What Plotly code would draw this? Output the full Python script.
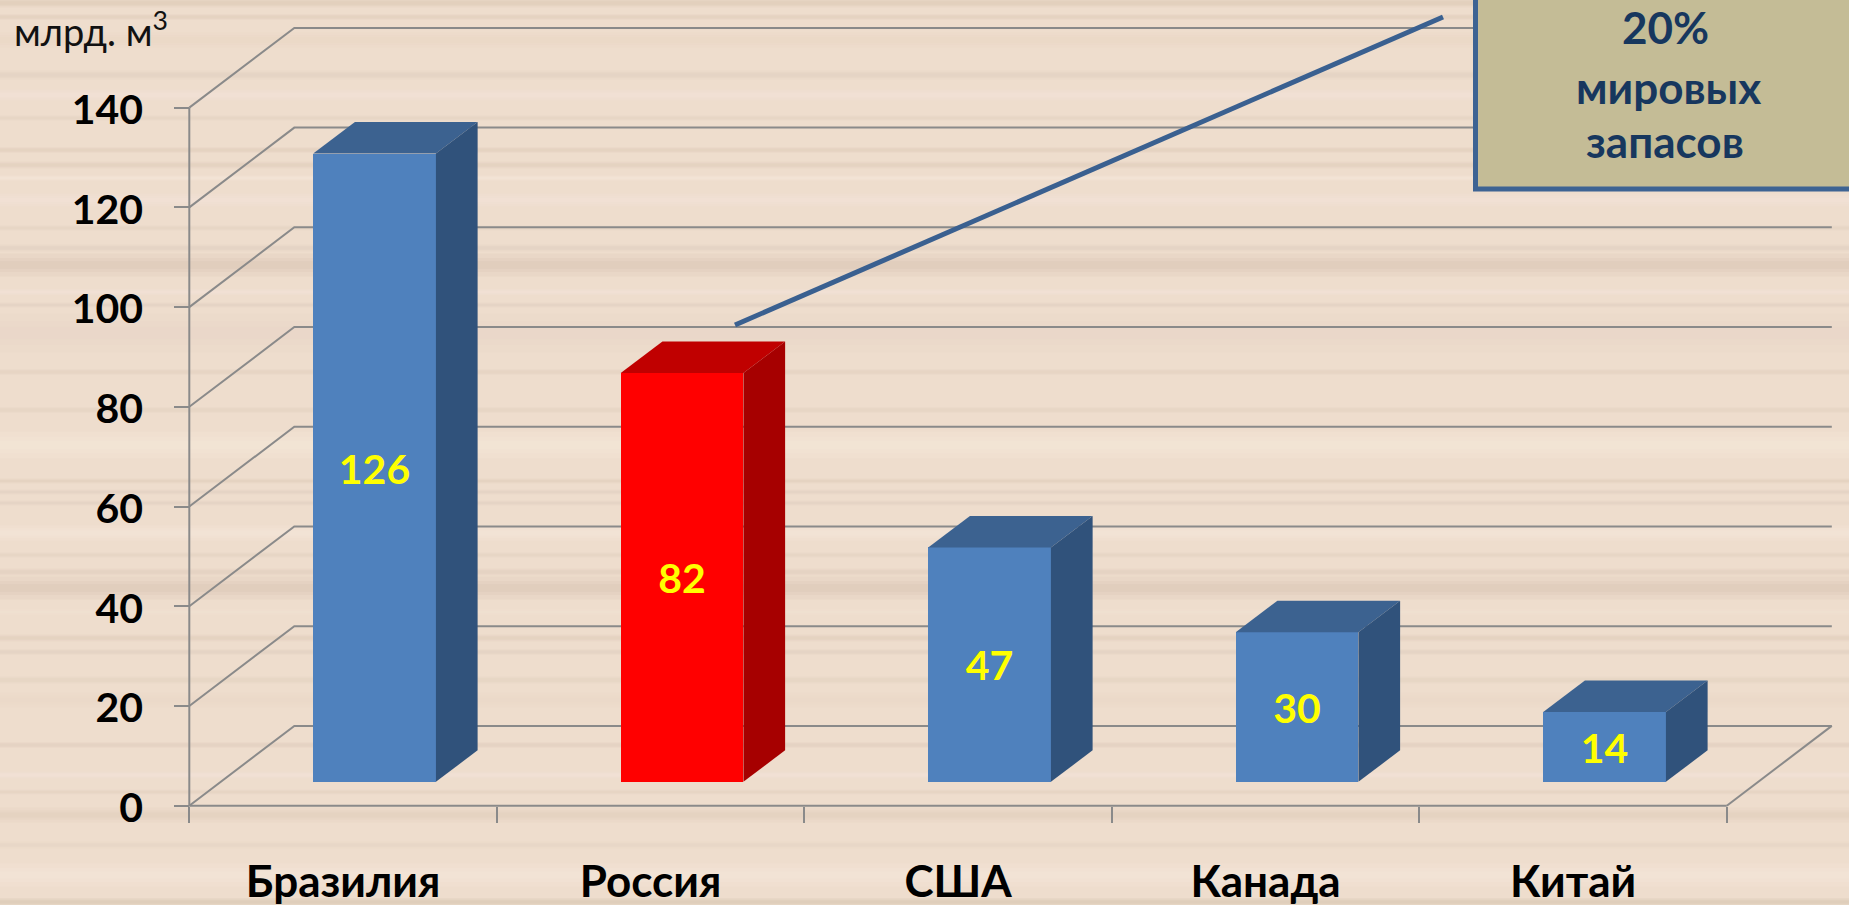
import plotly.graph_objects as go

W, H = 1849, 905
categories = ["Бразилия", "Россия", "США", "Канада", "Китай"]
values = [126, 82, 47, 30, 14]
y_ticks = [0, 20, 40, 60, 80, 100, 120, 140]
colors_front = ["#4F81BD", "#FF0000", "#4F81BD", "#4F81BD", "#4F81BD"]
colors_top = ["#3C6290", "#C00000", "#3C6290", "#3C6290", "#3C6290"]
colors_side = ["#30527B", "#A60000", "#30527B", "#30527B", "#30527B"]
unit_label = "млрд. м<sup>3</sup>"
callout_lines = ["20%", "мировых", "запасов"]

FONT = "Lato, 'Noto Sans', sans-serif"
AX0, AY0, PX_X, PX_Y = 189.3, 805.7, 307.5, 4.986
GRID = "#8A8A8A"
WALL_DX, WALL_DY = 0.3415, 16.0
BAR_L, BAR_W, BAR_BASE, DEPTH_X, DEPTH_Y = 0.403, 0.399, 4.8, 0.1356, 6.3
x_range = [-AX0 / PX_X, (W - AX0) / PX_X]
y_range = [(AY0 - H) / PX_Y, AY0 / PX_Y]
n = len(categories)

# wood-grain look of the slide background: hand-placed soft horizontal streaks (y, thickness, colour, strength)
DARK, LIGHT, PINK = "#CDB7A3", "#F8EDE0", "#E8D2C2"
wood_streaks = [
    (3, 8, DARK, .45), (17, 5, DARK, .3), (40, 14, PINK, .5), (75, 8, DARK, .25), (95, 10, LIGHT, .5),
    (118, 4, DARK, .2), (150, 5, DARK, .3), (165, 6, DARK, .3), (178, 4, LIGHT, .6), (200, 12, LIGHT, .5),
    (228, 4, DARK, .2), (248, 6, DARK, .25), (265, 22, DARK, .5), (292, 5, LIGHT, .5), (305, 4, DARK, .25),
    (333, 38, PINK, .55), (372, 5, DARK, .18), (410, 5, DARK, .2), (445, 26, LIGHT, .65), (481, 4, DARK, .3),
    (492, 4, DARK, .25), (503, 4, DARK, .25), (533, 14, LIGHT, .6), (555, 4, DARK, .2), (572, 6, DARK, .28),
    (588, 22, DARK, .5), (612, 5, LIGHT, .4), (638, 6, DARK, .3), (652, 5, DARK, .25), (680, 6, DARK, .2),
    (700, 14, PINK, .4), (745, 5, DARK, .28), (775, 6, LIGHT, .5), (792, 4, DARK, .18), (815, 14, DARK, .3),
    (845, 6, DARK, .16), (875, 22, LIGHT, .6), (902, 7, DARK, .55),
]


def px(x):
    return x / W


def py(y):
    return 1 - y / H


fig = go.Figure()
xs = [i + BAR_L + BAR_W / 2 for i in range(n)]
fig.add_trace(go.Bar(
    x=xs, y=values, base=BAR_BASE, width=BAR_W,
    marker=dict(color=colors_front, line=dict(width=0)),
    text=[str(v) for v in values], textposition="inside", insidetextanchor="middle",
    textangle=0, constraintext="none",
    insidetextfont=dict(family=FONT, size=41, color="#FFFF00", weight=700),
    hoverinfo="skip", showlegend=False,
))
for i, v in enumerate(values):
    l, r = i + BAR_L, i + BAR_L + BAR_W
    t, b = BAR_BASE + v, BAR_BASE
    fig.add_trace(go.Scatter(
        x=[l, r, r + DEPTH_X, l + DEPTH_X, l], y=[t, t, t + DEPTH_Y, t + DEPTH_Y, t],
        mode="lines", line=dict(width=0), fill="toself", fillcolor=colors_top[i],
        hoverinfo="skip", showlegend=False))
    fig.add_trace(go.Scatter(
        x=[r, r + DEPTH_X, r + DEPTH_X, r, r], y=[t, t + DEPTH_Y, b + DEPTH_Y, b, t],
        mode="lines", line=dict(width=0), fill="toself", fillcolor=colors_side[i],
        hoverinfo="skip", showlegend=False))

shapes = []
for yy, th, col, op in wood_streaks:
    for k in (1.0, 0.6, 0.3):
        hh = th * k / 2 + 0.5
        shapes.append(dict(type="rect", xref="paper", yref="paper", x0=0, x1=1, y0=py(yy + hh), y1=py(yy - hh),
                           fillcolor=col, opacity=op * 0.28, line=dict(width=0), layer="below"))
# back wall grid: tick -> diagonal -> along the wall
for v in y_ticks:
    path = f"M 0 {v} L {WALL_DX} {v + WALL_DY} L {n + WALL_DX} {v + WALL_DY}"
    shapes.append(dict(type="path", path=path, layer="below", line=dict(color=GRID, width=2)))
shapes.append(dict(type="line", x0=n, y0=0, x1=n + WALL_DX, y1=WALL_DY, layer="below",
                   line=dict(color=GRID, width=2)))
shapes.append(dict(type="line", x0=0, y0=0, x1=0, y1=y_ticks[-1], layer="below",
                   line=dict(color=GRID, width=2)))
shapes.append(dict(type="line", x0=0, y0=0, x1=n, y1=0, layer="below",
                   line=dict(color=GRID, width=2)))
# callout
shapes.append(dict(type="line", xref="paper", yref="paper", x0=px(735), y0=py(325), x1=px(1443), y1=py(17),
                   line=dict(color="#3A6090", width=5)))
shapes.append(dict(type="rect", xref="paper", yref="paper", x0=px(1475.5), y0=py(189), x1=px(1860), y1=py(-10),
                   fillcolor="#C4BC96", line=dict(color="#3D6393", width=5)))

ann = [dict(xref="paper", yref="paper", x=px(12), y=py(29), xanchor="left", yanchor="middle", showarrow=False,
            text=unit_label, font=dict(family=FONT, size=38, color="#111111"))]
for line, yy, xx in zip(callout_lines, [27, 87, 141], [1665, 1668, 1665]):
    ann.append(dict(xref="paper", yref="paper", x=px(xx), y=py(yy), xanchor="center", yanchor="middle",
                    showarrow=False, text=line,
                    font=dict(family=FONT, size=44, color="#17375E", weight=700)))

fig.update_layout(
    width=W, height=H, margin=dict(l=0, r=0, t=0, b=0), autosize=False,
    paper_bgcolor="#EEDDCD", plot_bgcolor="rgba(0,0,0,0)",
    shapes=shapes, annotations=ann, showlegend=False, bargap=0,
    xaxis=dict(range=x_range, domain=[0, 1], anchor="free", position=1 - AY0 / H,
               tickmode="array", tickvals=[i + 0.5 for i in range(n)], ticktext=categories,
               ticks="", showgrid=False, zeroline=False, showline=False,
               ticklabelstandoff=46,
               tickfont=dict(family=FONT, size=44, color="#000000", weight=700),
               minor=dict(ticks="outside", tickmode="array", tickvals=list(range(n + 1)),
                          ticklen=16, tickwidth=2, tickcolor=GRID, showgrid=False)),
    yaxis=dict(range=y_range, domain=[0, 1], anchor="free", position=AX0 / W,
               tickmode="array", tickvals=y_ticks, ticks="outside", ticklen=15, tickwidth=2, tickcolor=GRID,
               showgrid=False, zeroline=False, showline=False, ticklabelstandoff=23, ticklabelshift=2,
               tickfont=dict(family=FONT, size=41, color="#000000", weight=700)),
)
fig.write_html("out.html", config={"displayModeBar": False},
               post_script="document.body.style.margin='0';document.documentElement.style.overflow='hidden';")
